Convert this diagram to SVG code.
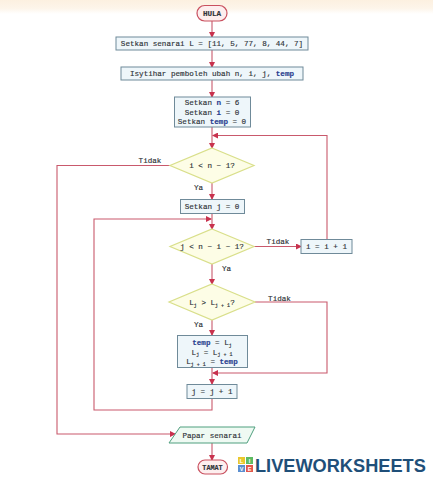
<svg xmlns="http://www.w3.org/2000/svg" width="433" height="480" viewBox="0 0 433 480">
<style>
.t{font-family:"Liberation Mono","Courier New",monospace;font-size:7.6px;font-weight:400;fill:#2f3338;stroke:#2f3338;stroke-width:.15;text-anchor:middle}
.h{font-weight:700}
.v{fill:#2a3f8f;stroke:#2a3f8f;font-weight:700}
.b{fill:#eef6fa;stroke:#6f8a99;stroke-width:1}
.d{fill:#fdfde6;stroke:#d9df8a;stroke-width:1.2}
.s{fill:#fdeeee;stroke:#c9505f;stroke-width:1.2}
.p{fill:#effaf3;stroke:#4f9f7e;stroke-width:1}
.c{fill:none;stroke:#c9596c;stroke-width:1.1}
.sub{font-size:5px}
.l{font-family:"Liberation Sans",Arial,sans-serif;font-size:5.500px;font-weight:700;fill:#fff;text-anchor:middle}
</style>
<defs>
<marker id="a" markerWidth="6" markerHeight="6" refX="5" refY="3" orient="auto" markerUnits="userSpaceOnUse"><path d="M0 0L6 3L0 6Z" fill="#c8324e"/></marker>
<linearGradient id="top" x1="0" y1="0" x2="0" y2="1"><stop offset="0" stop-color="#fcf0e0"/><stop offset=".6" stop-color="#fdf5ea"/><stop offset="1" stop-color="#ffffff"/></linearGradient>
</defs>
<rect width="433" height="480" fill="#fff"/>
<rect width="433" height="14" fill="url(#top)"/>
<g id="connectors">
<path class="c" marker-end="url(#a)" d="M212 21V37"/>
<path class="c" marker-end="url(#a)" d="M212 50V67"/>
<path class="c" marker-end="url(#a)" d="M212 80V97"/>
<path class="c" marker-end="url(#a)" d="M212 127V148"/>
<path class="c" marker-end="url(#a)" d="M327 239V135.500H213"/>
<path class="c" marker-end="url(#a)" d="M212 183V199"/>
<path class="c" marker-end="url(#a)" d="M212 213V229"/>
<path class="c" marker-end="url(#a)" d="M212 264V284"/>
<path class="c" marker-end="url(#a)" d="M212 320V335"/>
<path class="c" marker-end="url(#a)" d="M212 368V384"/>
<path class="c" marker-end="url(#a)" d="M254 246.500H301"/>
<path class="c" marker-end="url(#a)" d="M255 302H327V373H213"/>
<path class="c" marker-end="url(#a)" d="M212 399V410H94V219H211"/>
<path class="c" marker-end="url(#a)" d="M170 165.500H57V434H175"/>
<path class="c" marker-end="url(#a)" d="M212 443V460"/>
</g>
<g id="hula"><rect class="s" x="197" y="5.500" width="30" height="15.500" rx="7.700"/><text class="t h" x="212" y="16">HULA</text></g>
<g id="senarai"><rect class="b" x="116" y="37" width="192" height="13"/><text class="t" x="212" y="46">Setkan senarai L = [11, 5, 77, 8, 44, 7]</text></g>
<g id="isytihar"><rect class="b" x="121" y="67" width="182" height="13"/><text class="t" x="212" y="76">Isytihar pemboleh ubah n, i, j, <tspan class="v">temp</tspan></text></g>
<g id="setkan"><rect class="b" x="174.500" y="97" width="76" height="30"/><text class="t" x="212" y="105">Setkan <tspan class="v">n</tspan> = 6</text><text class="t" x="212" y="114.500">Setkan <tspan class="v">i</tspan> = 0</text><text class="t" x="212" y="123.500">Setkan <tspan class="v">temp</tspan> = 0</text></g>
<g id="dec1"><polygon class="d" points="212,148 254,165.500 212,183 170,165.500"/><text class="t" x="212" y="168">i &lt; n − 1?</text></g>
<g id="setj"><rect class="b" x="180.500" y="199.500" width="64" height="14"/><text class="t" x="212" y="209">Setkan j = 0</text></g>
<g id="dec2"><polygon class="d" points="212,229 254,246.500 212,264 170,246.500"/><text class="t" x="212" y="249">j &lt; n − i − 1?</text></g>
<g id="inc-i"><rect class="b" x="301" y="239.500" width="51" height="14"/><text class="t" x="326.500" y="249">i = i + 1</text></g>
<g id="dec3"><polygon class="d" points="212,284 255,302 212,320 169,302"/><text class="t" x="212" y="305">L<tspan class="sub" dy="1.500">j</tspan><tspan dy="-1.500"> &gt; L</tspan><tspan class="sub" dy="1.500">j + 1</tspan><tspan dy="-1.500">?</tspan></text></g>
<g id="swap"><rect class="b" x="177.500" y="335.500" width="70" height="32"/><text class="t" x="212" y="345"><tspan class="v">temp</tspan> = L<tspan class="sub" dy="1.500">j</tspan></text><text class="t" x="212" y="354.500">L<tspan class="sub" dy="1.500">j</tspan><tspan dy="-1.500"> = L</tspan><tspan class="sub" dy="1.500">j + 1</tspan></text><text class="t" x="212" y="364">L<tspan class="sub" dy="1.500">j + 1</tspan><tspan dy="-1.500"> = </tspan><tspan class="v">temp</tspan></text></g>
<g id="inc-j"><rect class="b" x="187" y="384.500" width="50" height="14"/><text class="t" x="212" y="394">j = j + 1</text></g>
<g id="papar"><polygon class="p" points="180,427 255,427 247,443 169,443"/><text class="t" x="212" y="437.500">Papar senarai</text></g>
<g id="tamat"><rect class="s" x="198" y="460" width="29.500" height="14" rx="7"/><text class="t h" x="212.500" y="469.500" style="font-size:6.800px">TAMAT</text></g>
<g id="labels">
<text class="t" x="150" y="162.500">Tidak</text>
<text class="t" x="198.500" y="190">Ya</text>
<text class="t" x="278" y="243.500">Tidak</text>
<text class="t" x="226.500" y="270.500">Ya</text>
<text class="t" x="279.500" y="300.500">Tidak</text>
<text class="t" x="198.500" y="326.500">Ya</text>
</g>
<g id="logo">
<rect x="238" y="457" width="7" height="7" fill="#e9c82e"/><rect x="246" y="457" width="7" height="7" fill="#5dbb63"/>
<rect x="238" y="465" width="7" height="7" fill="#5b8fd0"/><rect x="246" y="465" width="7" height="7" fill="#e2574c"/>
<text class="l" x="241.500" y="462.500">L</text><text class="l" x="249.500" y="462.500">I</text><text class="l" x="241.500" y="470.500">V</text><text class="l" x="249.500" y="470.500">E</text>
<text x="255" y="471.500" style="font-family:'Liberation Sans',Arial,sans-serif;font-size:18.200px;font-weight:700;fill:#1f4f79">LIVEWORKSHEETS</text>
</g>
</svg>
